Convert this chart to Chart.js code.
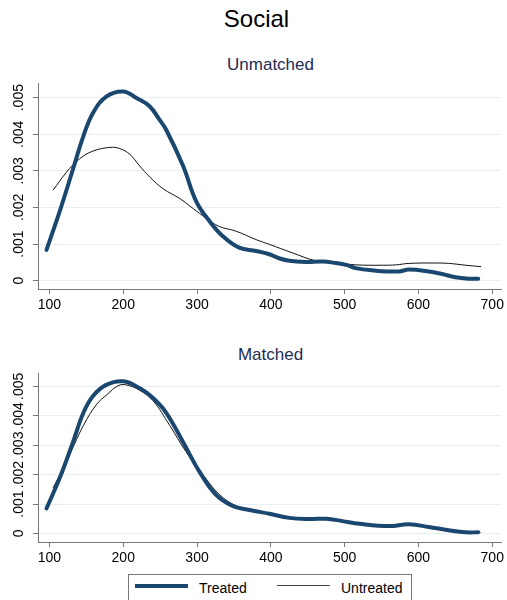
<!DOCTYPE html>
<html>
<head>
<meta charset="utf-8">
<script src="https://cdn.jsdelivr.net/npm/chart.js@4/dist/chart.umd.min.js"></script>
<style>
  body { margin: 0; background: #fff; font-family: "Liberation Sans", Arial, sans-serif; }
  #wrap { position: relative; width: 507px; height: 600px; overflow: hidden; }
  .ttl { position: absolute; left: 0; width: 507px; text-align: center; }
  #main { top: 5px; font-size: 24px; color: #000; left: 3px; }
  .sub { font-size: 17px; color: #1e2c55; left: 17px; }
  #c1 { position: absolute; left: 0; top: 75px; }
  #c2 { position: absolute; left: 0; top: 365px; }
  #legend { position: absolute; left: 128px; top: 574px; width: 284px; height: 40px; border: 1px solid #777; box-sizing: border-box; font-size: 14px; }
  .item { position: absolute; top: 5px; }
  .sw { position: absolute; top: 9px; }
</style>
</head>
<body>
<div id="wrap">
  <div id="main" class="ttl">Social</div>
  <div class="ttl sub" style="top:55px">Unmatched</div>
  <div class="ttl sub" style="top:345px">Matched</div>
  <canvas id="c1" width="507" height="245"></canvas>
  <canvas id="c2" width="507" height="205"></canvas>
  <div id="legend">
    <div class="sw" style="left:6px;width:53px;height:4px;background:#1a476f"></div>
    <div class="item" style="left:70px">Treated</div>
    <div class="sw" style="left:148px;top:10px;width:53px;height:1px;background:#444"></div>
    <div class="item" style="left:212px">Untreated</div>
  </div>
</div>
<script>
// Kernel density, Social, unmatched sample
const topTreatedX = [96, 114, 132, 146, 159, 177, 200, 218, 236, 249, 258, 281, 299, 317, 335, 357, 380, 398, 411, 425, 448, 470, 488, 502, 515, 542, 560, 574, 587, 614, 632, 650, 668, 681];
const topTreatedY = [.00084, .0019, .00305, .00395, .00458, .00503, .00517, .00499, .00476, .0044, .00413, .00314, .00216, .00162, .00121, .0009, .00081, .00072, .00061, .00054, .00051, .00052, .00048, .00043, .00034, .00027, .00025, .00025, .0003, .00025, .00018, .00009, .00005, .00005];
const topUntreatedX = [105, 123, 141, 159, 182, 195, 209, 222, 236, 254, 276, 294, 312, 330, 353, 380, 398, 429, 461, 488, 515, 551, 570, 587, 623, 641, 664, 685];
const topUntreatedY = [.00247, .00296, .00333, .00354, .00364, .00361, .00345, .00314, .00283, .00251, .00225, .00198, .00171, .00148, .00135, .00112, .00099, .00076, .00054, .00049, .00043, .00042, .00043, .00047, .00048, .00047, .00042, .00038];

// matched sample
const botTreatedX = [96, 114, 132, 146, 159, 177, 200, 222, 240, 258, 281, 303, 325, 348, 371, 398, 425, 452, 475, 497, 520, 560, 587, 614, 641, 664, 681];
const botTreatedY = [.00085, .00189, .00311, .0041, .00467, .00505, .00517, .00494, .00461, .00411, .00311, .00211, .00133, .00094, .0008, .00067, .00053, .00049, .0005, .00042, .00033, .00025, .00031, .00022, .00011, .00004, .00004];
const botUntreatedX = [105, 123, 146, 164, 178, 193, 204, 222, 240, 263, 285, 308, 330, 353, 380, 398, 425, 452, 475, 497, 520, 560, 587, 614, 641, 664, 684];
const botUntreatedY = [.00155, .00244, .00367, .00439, .00472, .00502, .00505, .00487, .00452, .00367, .00278, .002, .00133, .00094, .00076, .00066, .00052, .00048, .00049, .00041, .00032, .00024, .0003, .00021, .0001, .00004, .00003];

const xTicks = [100, 200, 300, 400, 500, 600, 700];
const yTicks = [0, .001, .002, .003, .004, .005];

const pts = (xs, ys) => xs.map((x, i) => ({ x: x, y: ys[i] }));
const fmt = v => v === 0 ? '0' : v.toFixed(3).replace(/^0/, '');

function makeChart(id, tx, ty, ux, uy, yMin, yMax, xH) {
    new Chart(document.getElementById(id), {
        type: 'line',
        data: {
            datasets: [
                { label: 'Treated', data: pts(tx, ty), borderColor: '#1a476f', borderWidth: 4, pointRadius: 0, tension: 0.4, borderCapStyle: 'round' },
                { label: 'Untreated', data: pts(ux, uy), borderColor: '#111', borderWidth: 1, pointRadius: 0, tension: 0.4 }
            ]
        },
        options: {
            responsive: false,
            animation: false,
            layout: { padding: { top: 5, right: 3, left: 0, bottom: 0 } },
            plugins: { legend: { display: false }, tooltip: { enabled: false } },
            scales: {
                x: {
                    type: 'linear', min: 84.5, max: 712,
                    afterBuildTicks: s => { s.ticks = xTicks.map(v => ({ value: v })); },
                    afterFit: s => { s.height = xH; },
                    grid: { drawOnChartArea: false, tickColor: '#777', tickLength: 5 },
                    border: { color: '#777' },
                    ticks: { color: '#000', font: { family: 'Liberation Sans', size: 14 }, padding: 3, maxRotation: 0 }
                },
                y: {
                    min: yMin, max: yMax,
                    afterBuildTicks: s => { s.ticks = yTicks.map(v => ({ value: v })); },
                    afterFit: s => { s.width = 38; },
                    grid: { color: '#e6eff1', tickColor: '#777', tickLength: 5 },
                    border: { color: '#777' },
                    ticks: { color: '#000', font: { family: 'Liberation Sans', size: 14 }, minRotation: 90, maxRotation: 90, padding: 0, crossAlign: 'center', callback: v => fmt(v) }
                }
            }
        }
    });
}

makeChart('c1', topTreatedX, topTreatedY, topUntreatedX, topUntreatedY, -0.00023, 0.00539, 31);
makeChart('c2', botTreatedX, botTreatedY, botUntreatedX, botUntreatedY, -0.00029, 0.00544, 28);
</script>
</body>
</html>
